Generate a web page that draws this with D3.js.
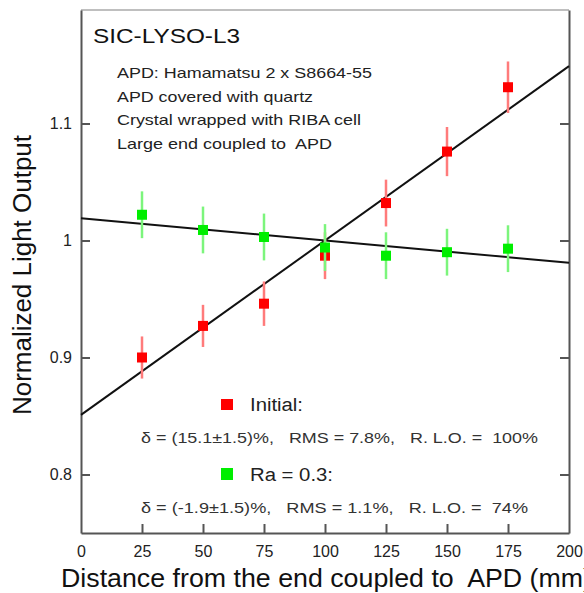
<!DOCTYPE html>
<html>
<head>
<meta charset="utf-8">
<script src="https://cdn.jsdelivr.net/npm/d3@7"></script>
<style>
  body { margin: 0; background: #fff; }
  svg { font-family: "Liberation Sans", Arial, sans-serif; }
  text { white-space: pre; }
</style>
</head>
<body>
<div id="chart"></div>
<script>
// distance from coupled end (mm)
var distances = [25, 50, 75, 100, 125, 150, 175];
// initial light output, normalized
var initialLO = [0.900, 0.927, 0.946, 0.987, 1.032, 1.076, 1.131];
var initialErr = [0.018, 0.018, 0.019, 0.020, 0.020, 0.021, 0.022];
// after Ra = 0.3 treatment
var raLO = [1.022, 1.009, 1.003, 0.994, 0.987, 0.990, 0.993];
var raErr = [0.020, 0.020, 0.020, 0.020, 0.020, 0.020, 0.020];
// linear fits, end points at x = 0 and x = 200
var fitX = [0, 200];
var initialFit = [0.851, 1.149];
var raFit = [1.019, 0.981];

var xTicks = [0, 25, 50, 75, 100, 125, 150, 175, 200];
var yTicks = [0.8, 0.9, 1, 1.1];

var notes = ['APD: Hamamatsu 2 x S8664-55', 'APD covered with quartz',
    'Crystal wrapped with RIBA cell', 'Large end coupled to  APD'];

var W = 584, H = 593;
var mLeft = 81, mRight = 569, mTop = 10, mBottom = 533;

var svg = d3.select('#chart').append('svg')
    .attr('width', W)
    .attr('height', H);

var x = d3.scaleLinear().domain([0, 200]).range([mLeft, mRight]);
var y = d3.scaleLinear().domain([0.75, 1.197]).range([mBottom, mTop]);

// top border is a light line
svg.append('line')
    .attr('x1', mLeft).attr('x2', mRight).attr('y1', mTop).attr('y2', mTop)
    .style('stroke', '#aaa').style('stroke-width', 1.5);

var axisColor = '#555';

var xAxis = svg.append('g')
    .attr('transform', 'translate(0,' + mBottom + ')')
    .call(d3.axisBottom(x).tickValues(xTicks).tickSizeInner(-9).tickSizeOuter(0)
        .tickFormat(d3.format('d')));
xAxis.selectAll('text').attr('y', 24).attr('dy', 0)
    .style('font-size', '16px').style('font-family', 'inherit').style('fill', '#222');
xAxis.selectAll('.tick line').filter(function (d) { return d === 0 || d === 200; }).remove();

var yAxis = svg.append('g')
    .attr('transform', 'translate(' + mLeft + ',0)')
    .call(d3.axisLeft(y).tickValues(yTicks).tickSizeInner(-9).tickSizeOuter(0)
        .tickFormat(function (d) { return d === 1 ? '1' : d3.format('.1f')(d); }));
yAxis.selectAll('text').attr('x', -9)
    .style('font-size', '16px').style('font-family', 'inherit').style('fill', '#222');

svg.append('g')
    .attr('transform', 'translate(' + mRight + ',0)')
    .call(d3.axisRight(y).tickValues(yTicks).tickSizeInner(-9).tickSizeOuter(0).tickFormat(''));

svg.selectAll('.domain, .tick line')
    .style('stroke', axisColor).style('stroke-width', 2);

// fit lines
var fitLine = d3.line()
    .x(function (d) { return x(d[0]); })
    .y(function (d) { return y(d[1]); });

svg.append('path')
    .datum(d3.zip(fitX, raFit))
    .attr('d', fitLine)
    .style('fill', 'none').style('stroke', '#111').style('stroke-width', 2);
svg.append('path')
    .datum(d3.zip(fitX, initialFit))
    .attr('d', fitLine)
    .style('fill', 'none').style('stroke', '#111').style('stroke-width', 2);

function drawSeries(vals, errs, barColor, color) {
    var pts = d3.zip(distances, vals, errs);
    var g = svg.append('g');
    g.selectAll('line').data(pts).enter().append('line')
        .attr('x1', function (d) { return x(d[0]); })
        .attr('x2', function (d) { return x(d[0]); })
        .attr('y1', function (d) { return y(d[1] - d[2]); })
        .attr('y2', function (d) { return y(d[1] + d[2]); })
        .style('stroke', barColor).style('stroke-width', 2.5);
    g.selectAll('rect').data(pts).enter().append('rect')
        .attr('x', function (d) { return x(d[0]) - 5; })
        .attr('y', function (d) { return y(d[1]) - 5; })
        .attr('width', 10).attr('height', 10)
        .style('fill', color);
}

drawSeries(initialLO, initialErr, '#ff7b7b', '#ff0000');
drawSeries(raLO, raErr, '#7cf57c', '#00ee00');

// text that is stretched to the width seen in the picture
function label(tx, ty, size, len, str, color) {
    return svg.append('text')
        .attr('x', tx).attr('y', ty)
        .attr('textLength', len).attr('lengthAdjust', 'spacingAndGlyphs')
        .style('font-size', size + 'px').style('fill', color || '#222')
        .text(str);
}

label(93, 43, 21, 147, 'SIC-LYSO-L3', '#111');

var noteLens = [255, 196, 244, 215];
notes.forEach(function (n, i) {
    label(117, 78 + i * 23.5, 14.5, noteLens[i], n);
});

// legend
svg.append('rect').attr('x', 221).attr('y', 399).attr('width', 12).attr('height', 11).style('fill', '#ff0000');
svg.append('rect').attr('x', 221).attr('y', 468).attr('width', 12).attr('height', 12).style('fill', '#00ee00');
label(250, 411, 18, 53, 'Initial:');
label(250, 481, 18, 83, 'Ra = 0.3:');
label(141, 443, 14.5, 397, '\u03b4 = (15.1\u00b11.5)%,   RMS = 7.8%,   R. L.O. =  100%', '#333');
label(141, 513, 14.5, 387, '\u03b4 = (-1.9\u00b11.5)%,   RMS = 1.1%,   R. L.O. =  74%', '#333');

// axis titles
label(61, 587, 25, 531, 'Distance from the end coupled to  APD (mm)', '#111');
svg.append('text')
    .attr('transform', 'translate(31,275) rotate(-90)')
    .attr('text-anchor', 'middle')
    .attr('textLength', 280).attr('lengthAdjust', 'spacingAndGlyphs')
    .style('font-size', '25px').style('fill', '#111')
    .text('Normalized Light Output');
</script>
</body>
</html>
